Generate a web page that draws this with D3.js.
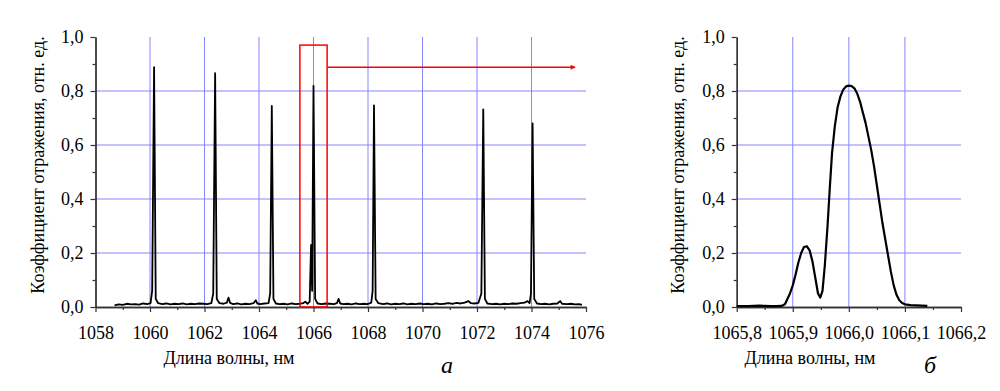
<!DOCTYPE html>
<html>
<head>
<meta charset="utf-8">
<script src="https://cdn.jsdelivr.net/npm/d3@7"></script>
<style>
  body { margin: 0; background: #fff; }
</style>
</head>
<body>
<div id="chart"></div>
<script>
// overview spectrum (a): [wavelength nm, reflectance]
const overviewSpectrum = [
  [1058.70, 0.006], [1058.85, 0.010], [1059.00, 0.008], [1059.15, 0.012], [1059.30, 0.010],
  [1059.45, 0.011], [1059.60, 0.009], [1059.75, 0.013], [1059.90, 0.011], [1060.02, 0.014],
  [1060.08, 0.060], [1060.15, 0.888], [1060.21, 0.030], [1060.30, 0.014], [1060.45, 0.011],
  [1060.60, 0.013], [1060.75, 0.010], [1060.90, 0.012], [1061.05, 0.011], [1061.20, 0.013],
  [1061.35, 0.010], [1061.50, 0.012], [1061.65, 0.011], [1061.80, 0.013], [1061.95, 0.012],
  [1062.10, 0.011], [1062.25, 0.014], [1062.32, 0.050], [1062.39, 0.866], [1062.45, 0.030],
  [1062.55, 0.014], [1062.70, 0.012], [1062.82, 0.016], [1062.88, 0.035], [1062.94, 0.015],
  [1063.05, 0.011], [1063.20, 0.013], [1063.35, 0.010], [1063.50, 0.012], [1063.65, 0.011],
  [1063.80, 0.014], [1063.88, 0.025], [1063.94, 0.013], [1064.05, 0.011], [1064.20, 0.013],
  [1064.35, 0.014], [1064.41, 0.050], [1064.47, 0.745], [1064.53, 0.030], [1064.62, 0.013],
  [1064.75, 0.011], [1064.90, 0.012], [1065.05, 0.010], [1065.20, 0.013], [1065.35, 0.011],
  [1065.50, 0.012], [1065.62, 0.014], [1065.70, 0.020], [1065.78, 0.012], [1065.86, 0.020],
  [1065.91, 0.230], [1065.95, 0.060], [1066.00, 0.819], [1066.06, 0.030], [1066.15, 0.013],
  [1066.30, 0.011], [1066.45, 0.013], [1066.60, 0.012], [1066.75, 0.011], [1066.86, 0.014],
  [1066.92, 0.030], [1066.98, 0.013], [1067.10, 0.011], [1067.25, 0.012], [1067.40, 0.010],
  [1067.55, 0.013], [1067.70, 0.011], [1067.85, 0.012], [1068.00, 0.011], [1068.12, 0.016],
  [1068.17, 0.060], [1068.22, 0.747], [1068.28, 0.030], [1068.38, 0.014], [1068.55, 0.011],
  [1068.70, 0.013], [1068.85, 0.010], [1069.00, 0.012], [1069.15, 0.011], [1069.30, 0.013],
  [1069.45, 0.010], [1069.60, 0.012], [1069.75, 0.011], [1069.90, 0.013], [1070.05, 0.011],
  [1070.20, 0.012], [1070.35, 0.010], [1070.50, 0.013], [1070.65, 0.011], [1070.80, 0.012],
  [1070.95, 0.014], [1071.10, 0.012], [1071.25, 0.015], [1071.40, 0.013], [1071.55, 0.016],
  [1071.68, 0.022], [1071.78, 0.014], [1071.90, 0.013], [1072.05, 0.015], [1072.16, 0.050],
  [1072.23, 0.732], [1072.29, 0.030], [1072.38, 0.013], [1072.55, 0.011], [1072.70, 0.012],
  [1072.85, 0.010], [1073.00, 0.012], [1073.15, 0.011], [1073.30, 0.013], [1073.45, 0.012],
  [1073.60, 0.014], [1073.75, 0.016], [1073.85, 0.022], [1073.93, 0.014], [1073.98, 0.050],
  [1074.04, 0.680], [1074.10, 0.030], [1074.20, 0.013], [1074.35, 0.011], [1074.50, 0.012],
  [1074.65, 0.010], [1074.80, 0.012], [1074.95, 0.013], [1075.05, 0.022], [1075.12, 0.012],
  [1075.30, 0.011], [1075.45, 0.012], [1075.60, 0.010], [1075.75, 0.011], [1075.85, 0.008]
];

// zoomed peak near 1066 nm (б)
const detailSpectrum = [
  [1065.800, 0.003], [1065.820, 0.003], [1065.840, 0.005], [1065.850, 0.004], [1065.860, 0.003],
  [1065.870, 0.003], [1065.880, 0.004], [1065.886, 0.010], [1065.895, 0.050], [1065.900, 0.080],
  [1065.905, 0.120], [1065.910, 0.165], [1065.915, 0.200], [1065.920, 0.222], [1065.925, 0.225],
  [1065.930, 0.210], [1065.935, 0.170], [1065.940, 0.110], [1065.945, 0.050], [1065.949, 0.035],
  [1065.953, 0.060], [1065.957, 0.150], [1065.962, 0.300], [1065.966, 0.440], [1065.970, 0.570],
  [1065.975, 0.670], [1065.980, 0.740], [1065.985, 0.780], [1065.990, 0.805], [1065.995, 0.817],
  [1066.000, 0.820], [1066.005, 0.818], [1066.010, 0.810], [1066.015, 0.790], [1066.020, 0.760],
  [1066.025, 0.720], [1066.030, 0.680], [1066.035, 0.630], [1066.040, 0.580], [1066.045, 0.520],
  [1066.050, 0.450], [1066.055, 0.380], [1066.060, 0.310], [1066.065, 0.250], [1066.070, 0.190],
  [1066.075, 0.130], [1066.080, 0.080], [1066.085, 0.045], [1066.090, 0.025], [1066.095, 0.015],
  [1066.100, 0.010], [1066.110, 0.007], [1066.120, 0.006], [1066.130, 0.005], [1066.140, 0.004]
];

const yMajor = [0, 0.2, 0.4, 0.6, 0.8, 1.0];
const yMinor = [0.1, 0.3, 0.5, 0.7, 0.9];
const yGrid = [0.2, 0.4, 0.6, 0.8];

const xMajorA = [1058, 1060, 1062, 1064, 1066, 1068, 1070, 1072, 1074, 1076];
const xMinorA = [1059, 1061, 1063, 1065, 1067, 1069, 1071, 1073, 1075];
const xGridA = [1060, 1062, 1064, 1066, 1068, 1070, 1072, 1074];

const xMajorB = [1065.8, 1065.9, 1066.0, 1066.1, 1066.2];
const xMinorB = [1065.85, 1065.95, 1066.05, 1066.15];
const xGridB = [1065.9, 1066.0, 1066.1];

// zoom frame: [x0, x1, yTop], arrow [x end, y]
const zoomBox = [1065.5, 1066.5, 0.97];
const zoomArrow = [1075.6, 0.888];

const yTitle = "Коэффициент отражения, отн. ед.";
const xTitle = "Длина волны, нм";

const serif = "Liberation Serif";
const comma = d => d3.format(".1f")(d).replace(".", ",");

const svg = d3.select("#chart").append("svg")
  .attr("width", 1000).attr("height", 391)
  .style("background", "#fff");

svg.append("defs").append("marker")
  .attr("id", "arrow")
  .attr("viewBox", "0 0 10 10")
  .attr("refX", 9).attr("refY", 5)
  .attr("markerWidth", 8).attr("markerHeight", 5)
  .attr("markerUnits", "userSpaceOnUse")
  .attr("orient", "auto")
  .append("path").attr("d", "M0,0L10,5L0,10Z").attr("fill", "#f00");

function panel(cfg) {
  const x = d3.scaleLinear().domain(cfg.xDomain).range(cfg.xRange);
  const y = d3.scaleLinear().domain([0, 1]).range([307, 37]);
  const g = svg.append("g");

  // grid
  g.selectAll(".vg").data(cfg.xGrid).enter().append("line")
    .attr("x1", d => x(d)).attr("x2", d => x(d))
    .attr("y1", y(0)).attr("y2", y(1))
    .attr("stroke", "#8585ff").attr("stroke-width", 1);
  g.selectAll(".hg").data(yGrid).enter().append("line")
    .attr("x1", cfg.xRange[0]).attr("x2", cfg.xRange[1])
    .attr("y1", d => y(d)).attr("y2", d => y(d))
    .attr("stroke", "#8585ff").attr("stroke-width", 1);

  // axes
  const xa = g.append("g").attr("transform", `translate(0,${y(0)})`)
    .call(d3.axisBottom(x).tickValues(cfg.xMajor).tickSize(5).tickSizeOuter(0)
      .tickPadding(14).tickFormat(cfg.fmt));
  const xm = g.append("g").attr("transform", `translate(0,${y(0)})`)
    .call(d3.axisBottom(x).tickValues(cfg.xMinor).tickSize(3).tickSizeOuter(0).tickFormat(""));
  const ya = g.append("g").attr("transform", `translate(${cfg.xRange[0]},0)`)
    .call(d3.axisLeft(y).tickValues(yMajor).tickSize(5).tickSizeOuter(0)
      .tickPadding(7).tickFormat(comma));
  const ym = g.append("g").attr("transform", `translate(${cfg.xRange[0]},0)`)
    .call(d3.axisLeft(y).tickValues(yMinor).tickSize(3).tickSizeOuter(0).tickFormat(""));
  [xa, xm, ya, ym].forEach(a => {
    a.attr("font-family", null).attr("font-size", null);
    a.select(".domain").attr("stroke", "#333").attr("stroke-width", 1.3);
    a.selectAll(".tick line").attr("stroke", "#333").attr("stroke-width", 1.2);
    a.selectAll("text").style("font-size", "18px")
      .style("font-family", serif).attr("fill", "#000");
  });

  // curve
  const line = d3.line().x(d => x(d[0])).y(d => y(d[1]));
  g.append("path").datum(cfg.data)
    .attr("d", line)
    .attr("fill", "none")
    .attr("stroke", "#000")
    .attr("stroke-width", cfg.lw)
    .attr("stroke-linejoin", "round");

  // titles
  g.append("text")
    .attr("transform", `translate(${cfg.yTitleX},165) rotate(-90)`)
    .attr("text-anchor", "middle")
    .style("font-family", serif).style("font-size", "18px")
    .text(yTitle);
  g.append("text")
    .attr("x", cfg.xTitleX).attr("y", 364)
    .attr("text-anchor", "middle")
    .style("font-family", serif).style("font-size", "18px")
    .text(xTitle);
  g.append("text")
    .attr("x", cfg.tagX).attr("y", 373)
    .attr("text-anchor", "middle")
    .style("font-family", serif).style("font-size", "24px")
    .style("font-style", "italic")
    .text(cfg.tag);

  return {x, y, g};
}

const a = panel({
  xDomain: [1058, 1076], xRange: [95.5, 586],
  xMajor: xMajorA, xMinor: xMinorA, xGrid: xGridA,
  fmt: d3.format("d"), data: overviewSpectrum, lw: 1.8,
  yTitleX: 44, xTitleX: 229, tagX: 447, tag: "а"
});

const b = panel({
  xDomain: [1065.8, 1066.2], xRange: [736.7, 961],
  xMajor: xMajorB, xMinor: xMinorB, xGrid: xGridB,
  fmt: comma, data: detailSpectrum, lw: 2.2,
  yTitleX: 684, xTitleX: 810, tagX: 930, tag: "б"
});

// red zoom frame and arrow on panel a
a.g.append("rect")
  .attr("x", a.x(zoomBox[0])).attr("y", a.y(zoomBox[2]))
  .attr("width", a.x(zoomBox[1]) - a.x(zoomBox[0]))
  .attr("height", a.y(0) - a.y(zoomBox[2]))
  .attr("fill", "none").attr("stroke", "#f00").attr("stroke-width", 1.5);
a.g.append("line")
  .attr("x1", a.x(zoomBox[1])).attr("x2", a.x(zoomArrow[0]))
  .attr("y1", a.y(zoomArrow[1])).attr("y2", a.y(zoomArrow[1]))
  .attr("stroke", "#f00").attr("stroke-width", 1.5)
  .attr("marker-end", "url(#arrow)");
</script>
</body>
</html>
